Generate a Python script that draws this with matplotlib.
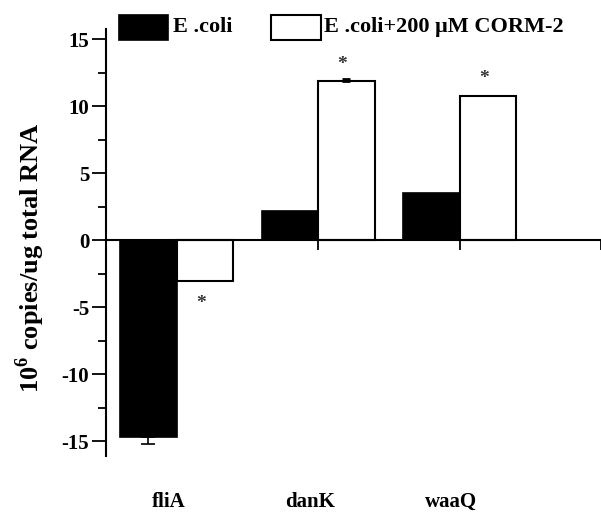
import matplotlib
matplotlib.use("Agg")
import matplotlib.pyplot as plt
from matplotlib.patches import Rectangle
from matplotlib.ticker import MultipleLocator
import numpy as np

plt.rcParams["font.family"] = ["Liberation Serif", "DejaVu Serif"]
plt.rcParams["font.weight"] = "bold"
plt.rcParams["axes.unicode_minus"] = False
plt.rcParams["mathtext.fontset"] = "custom"
plt.rcParams["mathtext.bf"] = "Liberation Serif:bold"
plt.rcParams["mathtext.rm"] = "Liberation Serif:bold"

# ---------- Datos ----------
genes = ["fliA", "danK", "waaQ"]
series_names = ["E .coli", "E .coli+200 \u03bcM CORM-2"]
ecoli = [-14.7, 2.15, 3.55]
ecoli_corm = [-3.05, 11.85, 10.8]
ecoli_err = [0.5, 0.0, 0.0]
corm_err = [0.0, 0.15, 0.0]
stars = ["*", "*", "*"]

fig = plt.figure(figsize=(6.01, 5.14), dpi=100)
ax = fig.add_axes([106 / 601, 1 - 456 / 514, 495 / 601, 427 / 514])

x = np.arange(len(genes))
w = 0.4
ax.bar(x - w / 2, ecoli, w, color="black", edgecolor="black", linewidth=1.2)
ax.bar(x + w / 2, ecoli_corm, w, color="white", edgecolor="black", linewidth=1.5)

# barras de error (solo las visibles)
for xi, v, e in zip(x, ecoli, ecoli_err):
    if e > 0:
        ax.errorbar(xi - w / 2, v, yerr=[[e], [0]] if v < 0 else [[0], [e]],
                    fmt="none", ecolor="black", capsize=5, elinewidth=1.2, capthick=1.2)
for xi, v, e in zip(x, ecoli_corm, corm_err):
    if e > 0:
        ax.errorbar(xi + w / 2, v, yerr=[[e], [0]] if v < 0 else [[0], [e]],
                    fmt="none", ecolor="black", capsize=3, elinewidth=1.5, capthick=2)

# asteriscos de significancia
for xi, v, s in zip(x, ecoli_corm, stars):
    off = 1.3 if v > 0 else -1.7
    ax.text(xi + w / 2 - 0.03, v + off, s, ha="center", va="center",
            fontsize=14, color="#333333")

ax.set_xlim(-0.5, 3.0)
ax.set_ylim(-16.12, 15.77)
ax.yaxis.set_major_locator(MultipleLocator(5))
ax.yaxis.set_minor_locator(MultipleLocator(2.5))
ax.set_xticks([0, 1, 2, 3])
ax.set_xticklabels([])
ax.tick_params(axis="y", direction="out", length=10, width=1.3, labelsize=15, pad=2)
ax.tick_params(axis="y", which="minor", direction="out", length=6, width=1.3)
ax.tick_params(axis="x", direction="out", length=7, width=1.3)
for lbl in ax.get_yticklabels():
    lbl.set_fontweight("bold")

ax.spines["top"].set_visible(False)
ax.spines["right"].set_visible(False)
ax.spines["bottom"].set_position(("data", 0))
ax.spines["left"].set_linewidth(1.5)
ax.spines["bottom"].set_linewidth(1.5)

# etiquetas de categoría abajo
for xi, g in zip(x, genes):
    ax.text(xi - 0.06, -0.108, g, transform=ax.get_xaxis_transform(),
            ha="center", va="center", fontsize=15, fontweight="bold")

fig.text(30 / 601, 1 - 258 / 514, r"10$^{\mathbf{6}}$ copies/ug total RNA", rotation=90,
         ha="center", va="center", fontsize=19, fontweight="bold")

# leyenda manual
fig.add_artist(Rectangle((119 / 601, 1 - 40 / 514), 49 / 601, 25 / 514,
                         transform=fig.transFigure, facecolor="black", edgecolor="black", lw=1.2))
fig.text(173 / 601, 1 - 27 / 514, series_names[0], ha="left", va="center",
         fontsize=16, fontweight="bold")
fig.add_artist(Rectangle((271 / 601, 1 - 40 / 514), 50 / 601, 25 / 514,
                         transform=fig.transFigure, facecolor="white", edgecolor="black", lw=1.5))
fig.text(324 / 601, 1 - 27 / 514, series_names[1], ha="left", va="center",
         fontsize=16, fontweight="bold")

fig.savefig("out.png", dpi=100)
